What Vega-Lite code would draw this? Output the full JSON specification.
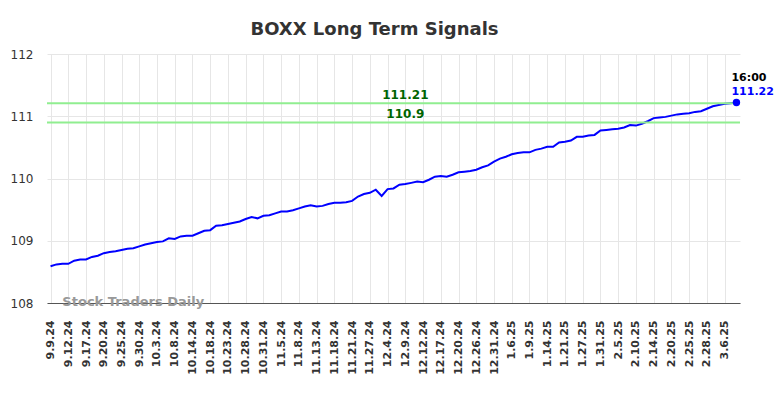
{
  "$schema": "https://vega.github.io/schema/vega-lite/v6.json",
  "width": 693,
  "height": 249,
  "autosize": "none",
  "padding": {"left": 47, "top": 54, "right": 44, "bottom": 95},
  "background": "white",
  "title": {"text": "BOXX Long Term Signals", "font": "DejaVu Sans", "fontSize": 18, "fontWeight": "bold", "color": "#333333", "anchor": "middle", "frame": "group", "dx": -19, "offset": 9},
  "config": {"view": {"stroke": null}, "font": "DejaVu Sans"},
  "data": {"values": [
    {"date": "9.9.24", "value": 108.59}, {"date": "9.10.24", "value": 108.62}, {"date": "9.11.24", "value": 108.63},
    {"date": "9.12.24", "value": 108.63}, {"date": "9.13.24", "value": 108.68}, {"date": "9.16.24", "value": 108.70},
    {"date": "9.17.24", "value": 108.70}, {"date": "9.18.24", "value": 108.74}, {"date": "9.19.24", "value": 108.76},
    {"date": "9.20.24", "value": 108.80}, {"date": "9.23.24", "value": 108.82}, {"date": "9.24.24", "value": 108.83},
    {"date": "9.25.24", "value": 108.85}, {"date": "9.26.24", "value": 108.87}, {"date": "9.27.24", "value": 108.88},
    {"date": "9.30.24", "value": 108.91}, {"date": "10.1.24", "value": 108.94}, {"date": "10.2.24", "value": 108.96},
    {"date": "10.3.24", "value": 108.98}, {"date": "10.4.24", "value": 108.99}, {"date": "10.7.24", "value": 109.04},
    {"date": "10.8.24", "value": 109.03}, {"date": "10.9.24", "value": 109.07}, {"date": "10.10.24", "value": 109.08},
    {"date": "10.14.24", "value": 109.08}, {"date": "10.15.24", "value": 109.12}, {"date": "10.16.24", "value": 109.16},
    {"date": "10.18.24", "value": 109.17}, {"date": "10.21.24", "value": 109.24}, {"date": "10.22.24", "value": 109.25},
    {"date": "10.23.24", "value": 109.27}, {"date": "10.24.24", "value": 109.29}, {"date": "10.25.24", "value": 109.31},
    {"date": "10.28.24", "value": 109.35}, {"date": "10.29.24", "value": 109.38}, {"date": "10.30.24", "value": 109.36},
    {"date": "10.31.24", "value": 109.40}, {"date": "11.1.24", "value": 109.41}, {"date": "11.4.24", "value": 109.44},
    {"date": "11.5.24", "value": 109.47}, {"date": "11.6.24", "value": 109.47}, {"date": "11.7.24", "value": 109.49},
    {"date": "11.8.24", "value": 109.52}, {"date": "11.11.24", "value": 109.55}, {"date": "11.12.24", "value": 109.57},
    {"date": "11.13.24", "value": 109.55}, {"date": "11.14.24", "value": 109.56}, {"date": "11.15.24", "value": 109.59},
    {"date": "11.18.24", "value": 109.61}, {"date": "11.19.24", "value": 109.61}, {"date": "11.20.24", "value": 109.62},
    {"date": "11.21.24", "value": 109.64}, {"date": "11.22.24", "value": 109.71}, {"date": "11.25.24", "value": 109.75},
    {"date": "11.27.24", "value": 109.77}, {"date": "11.29.24", "value": 109.82}, {"date": "12.2.24", "value": 109.72},
    {"date": "12.4.24", "value": 109.83}, {"date": "12.5.24", "value": 109.84}, {"date": "12.6.24", "value": 109.90},
    {"date": "12.9.24", "value": 109.91}, {"date": "12.10.24", "value": 109.93}, {"date": "12.11.24", "value": 109.95},
    {"date": "12.12.24", "value": 109.94}, {"date": "12.13.24", "value": 109.98}, {"date": "12.16.24", "value": 110.03},
    {"date": "12.17.24", "value": 110.04}, {"date": "12.18.24", "value": 110.03}, {"date": "12.19.24", "value": 110.06},
    {"date": "12.20.24", "value": 110.10}, {"date": "12.23.24", "value": 110.11}, {"date": "12.24.24", "value": 110.12},
    {"date": "12.26.24", "value": 110.14}, {"date": "12.27.24", "value": 110.18}, {"date": "12.30.24", "value": 110.21},
    {"date": "12.31.24", "value": 110.27}, {"date": "1.2.25", "value": 110.32}, {"date": "1.3.25", "value": 110.35},
    {"date": "1.6.25", "value": 110.39}, {"date": "1.7.25", "value": 110.41}, {"date": "1.8.25", "value": 110.42},
    {"date": "1.9.25", "value": 110.42}, {"date": "1.10.25", "value": 110.46}, {"date": "1.13.25", "value": 110.48},
    {"date": "1.14.25", "value": 110.51}, {"date": "1.15.25", "value": 110.51}, {"date": "1.16.25", "value": 110.58},
    {"date": "1.21.25", "value": 110.59}, {"date": "1.22.25", "value": 110.61}, {"date": "1.23.25", "value": 110.67},
    {"date": "1.27.25", "value": 110.67}, {"date": "1.28.25", "value": 110.69}, {"date": "1.29.25", "value": 110.70},
    {"date": "1.31.25", "value": 110.77}, {"date": "2.3.25", "value": 110.78}, {"date": "2.4.25", "value": 110.79},
    {"date": "2.5.25", "value": 110.80}, {"date": "2.6.25", "value": 110.82}, {"date": "2.7.25", "value": 110.86},
    {"date": "2.10.25", "value": 110.85}, {"date": "2.11.25", "value": 110.88}, {"date": "2.12.25", "value": 110.92},
    {"date": "2.14.25", "value": 110.97}, {"date": "2.18.25", "value": 110.98}, {"date": "2.19.25", "value": 110.99},
    {"date": "2.20.25", "value": 111.01}, {"date": "2.21.25", "value": 111.03}, {"date": "2.24.25", "value": 111.04},
    {"date": "2.25.25", "value": 111.05}, {"date": "2.26.25", "value": 111.07}, {"date": "2.27.25", "value": 111.08},
    {"date": "2.28.25", "value": 111.12}, {"date": "3.3.25", "value": 111.16}, {"date": "3.4.25", "value": 111.18},
    {"date": "3.6.25", "value": 111.20}, {"date": "3.7.25", "value": 111.21}, {"date": "3.10.25", "value": 111.22}
  ]},
  "layer": [
    {
      "mark": {"type": "line", "color": "#0000ff", "strokeWidth": 2},
      "encoding": {
        "x": {"field": "date", "type": "ordinal", "sort": null, "scale": {"type": "point", "padding": 0.6},
          "axis": {"title": null, "values": ["9.9.24","9.12.24","9.17.24","9.20.24","9.25.24","9.30.24","10.3.24","10.8.24","10.14.24","10.18.24","10.23.24","10.28.24","10.31.24","11.5.24","11.8.24","11.13.24","11.18.24","11.21.24","11.27.24","12.4.24","12.9.24","12.12.24","12.17.24","12.20.24","12.26.24","12.31.24","1.6.25","1.9.25","1.14.25","1.21.25","1.27.25","1.31.25","2.5.25","2.10.25","2.14.25","2.20.25","2.25.25","2.28.25","3.6.25"],
            "labelAngle": -90, "labelFontSize": 11, "labelFontWeight": "bold", "labelColor": "#333333", "labelPadding": 17,
            "ticks": false, "tickSize": 0, "grid": true, "gridColor": "#e6e6e6", "domainColor": "#555555", "labelOverlap": false}},
        "y": {"field": "value", "type": "quantitative", "scale": {"domain": [108, 112], "nice": false, "zero": false},
          "axis": {"title": null, "values": [108, 109, 110, 111, 112], "format": "d", "labelFontSize": 12, "labelColor": "#333333", "labelPadding": 14,
            "ticks": false, "tickSize": 0, "domain": false, "grid": true, "gridColor": "#e6e6e6"}}
      }
    },
    {
      "data": {"values": [{"level": 111.21}, {"level": 110.9}]},
      "mark": {"type": "rule", "color": "#90ee90", "strokeWidth": 2},
      "encoding": {"y": {"field": "level", "type": "quantitative", "scale": {"domain": [108, 112], "nice": false, "zero": false}}}
    },
    {
      "mark": {"type": "text", "color": "#006400", "fontWeight": "bold", "fontSize": 12, "baseline": "middle", "dy": -8},
      "encoding": {
        "x": {"field": "date", "type": "ordinal", "sort": null},
        "y": {"datum": 111.21},
        "text": {"condition": {"test": "datum.date == '12.9.24'", "value": "111.21"}, "value": ""}
      }
    },
    {
      "mark": {"type": "text", "color": "#006400", "fontWeight": "bold", "fontSize": 12, "baseline": "middle", "dy": -8},
      "encoding": {
        "x": {"field": "date", "type": "ordinal", "sort": null},
        "y": {"datum": 110.9},
        "text": {"condition": {"test": "datum.date == '12.9.24'", "value": "110.9"}, "value": ""}
      }
    },
    {
      "mark": {"type": "circle", "color": "#0000ff", "size": 55},
      "encoding": {
        "x": {"field": "date", "type": "ordinal", "sort": null},
        "y": {"field": "value", "type": "quantitative"},
        "opacity": {"condition": {"test": "datum.date == '3.10.25'", "value": 1}, "value": 0}
      }
    },
    {
      "mark": {"type": "text", "color": "#000000", "fontWeight": "bold", "fontSize": 11, "align": "left", "baseline": "middle", "dx": -5, "dy": -25},
      "encoding": {
        "x": {"field": "date", "type": "ordinal", "sort": null},
        "y": {"field": "value", "type": "quantitative"},
        "text": {"condition": {"test": "datum.date == '3.10.25'", "value": "16:00"}, "value": ""}
      }
    },
    {
      "mark": {"type": "text", "color": "#0000ff", "fontWeight": "bold", "fontSize": 11, "align": "left", "baseline": "middle", "dx": -5, "dy": -11},
      "encoding": {
        "x": {"field": "date", "type": "ordinal", "sort": null},
        "y": {"field": "value", "type": "quantitative"},
        "text": {"condition": {"test": "datum.date == '3.10.25'", "field": "value", "format": ".2f"}, "value": ""}
      }
    },
    {
      "mark": {"type": "text", "color": "#999999", "fontWeight": "bold", "fontSize": 13, "align": "left", "baseline": "middle", "dy": -1},
      "encoding": {
        "x": {"field": "date", "type": "ordinal", "sort": null},
        "y": {"datum": 108},
        "text": {"condition": {"test": "datum.date == '9.11.24'", "value": "Stock Traders Daily"}, "value": ""}
      }
    }
  ]
}
